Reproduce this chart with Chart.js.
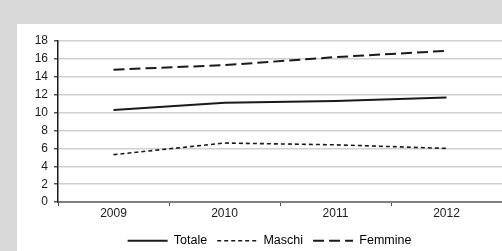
<!DOCTYPE html>
<html>
<head>
<meta charset="utf-8">
<script src="https://cdn.jsdelivr.net/npm/chart.js@4.4.1/dist/chart.umd.min.js"></script>
<style>
  html, body { margin: 0; padding: 0; background: #d9d9d9; width: 502px; height: 251px; overflow: hidden; }
  #box { position: absolute; left: 17px; top: 24px; width: 485px; height: 227px; background: #fff; }
</style>
</head>
<body>
<div id="box"><canvas id="myChart" width="485" height="227"></canvas></div>
<script>
const anni = ['2009', '2010', '2011', '2012'];
const totale = [10.3, 11.1, 11.3, 11.7];
const maschi = [5.3, 6.6, 6.4, 6.0];
const femmine = [14.8, 15.3, 16.2, 16.9];

Chart.defaults.font.family = 'Liberation Sans, Arial, sans-serif';
Chart.defaults.font.size = 12;
Chart.defaults.color = '#1a1a1a';

// sposta la legenda come nell'originale
const legendShift = {
    id: 'legendShift',
    afterLayout(chart) {
        chart.legend.left += 10;
        chart.legend.right += 10;
        chart.legend.top += 4;
        chart.legend.bottom += 4;
    }
};

const ctx = document.getElementById('myChart');

new Chart(ctx, {
    type: 'line',
    data: {
        labels: anni,
        datasets: [{
            label: 'Totale',
            data: totale,
            borderColor: '#1a1a1a',
            borderWidth: 2,
            borderDash: [],
            pointRadius: 0,
            tension: 0
        }, {
            label: 'Maschi',
            data: maschi,
            borderColor: '#1a1a1a',
            borderWidth: 1.6,
            borderDash: [4, 3],
            pointRadius: 0,
            tension: 0
        }, {
            label: 'Femmine',
            data: femmine,
            borderColor: '#1a1a1a',
            borderWidth: 2,
            borderDash: [11, 5],
            pointRadius: 0,
            tension: 0
        }]
    },
    options: {
        responsive: false,
        animation: false,
        layout: { padding: { top: 17, right: 0, bottom: -2, left: 0 } },
        plugins: {
            tooltip: { enabled: false },
            legend: {
                position: 'bottom',
                labels: {
                    usePointStyle: true,
                    pointStyle: 'line',
                    pointStyleWidth: 40,
                    boxHeight: 12,
                    padding: 10,
                    font: { size: 12.5 },
                    generateLabels(chart) {
                        return chart.data.datasets.map((ds, i) => ({
                            text: ds.label,
                            datasetIndex: i,
                            strokeStyle: ds.borderColor,
                            fillStyle: ds.borderColor,
                            lineWidth: ds.borderWidth,
                            lineDash: ds.borderDash,
                            pointStyle: 'line',
                            hidden: false
                        }));
                    }
                }
            }
        },
        scales: {
            x: {
                offset: true,
                grid: {
                    offset: true,
                    drawOnChartArea: false,
                    tickLength: 4,
                    tickColor: '#555'
                },
                border: { color: '#808080', width: 2 },
                ticks: { padding: 0 }
            },
            y: {
                min: 0,
                max: 18,
                ticks: { stepSize: 2, padding: 6 },
                grid: {
                    color: '#d0d0d0',
                    lineWidth: 1.5,
                    tickLength: 4,
                    tickColor: '#555'
                },
                border: { color: '#1a1a1a', width: 1.5 },
                afterFit(scale) { scale.width = 41; }
            }
        }
    },
    plugins: [legendShift]
});
</script>
</body>
</html>
